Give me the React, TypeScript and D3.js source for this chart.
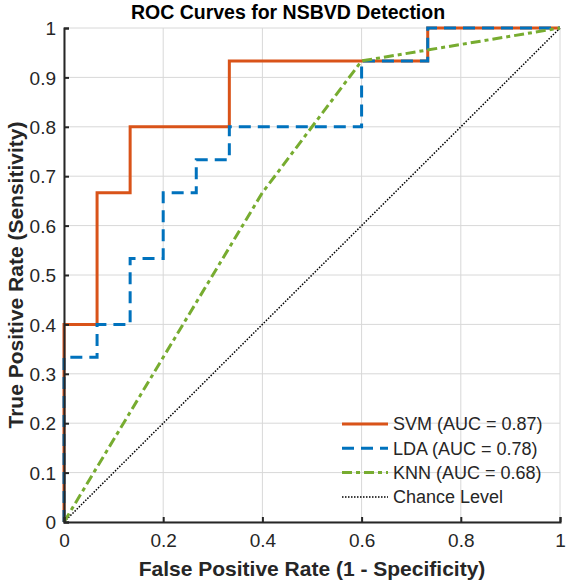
import React, { useEffect, useRef } from "react";
import * as d3 from "d3";

// ROC points (false positive rate, true positive rate)
const svmFpr = [0, 0, 1 / 15, 1 / 15, 2 / 15, 2 / 15, 5 / 15, 5 / 15, 11 / 15, 11 / 15, 1];
const svmTpr = [0, 6 / 15, 6 / 15, 10 / 15, 10 / 15, 12 / 15, 12 / 15, 14 / 15, 14 / 15, 1, 1];

const ldaFpr = [0, 0, 1 / 15, 1 / 15, 2 / 15, 2 / 15, 3 / 15, 3 / 15, 4 / 15, 4 / 15, 5 / 15, 5 / 15, 9 / 15, 9 / 15, 11 / 15, 11 / 15, 1];
const ldaTpr = [0, 5 / 15, 5 / 15, 6 / 15, 6 / 15, 8 / 15, 8 / 15, 10 / 15, 10 / 15, 11 / 15, 11 / 15, 12 / 15, 12 / 15, 14 / 15, 14 / 15, 1, 1];

const knnFpr = [0, 6 / 15, 9 / 15, 1];
const knnTpr = [0, 10 / 15, 14 / 15, 1];

const chanceFpr = [0, 1];
const chanceTpr = [0, 1];

const seriesNames = ["SVM (AUC = 0.87)", "LDA (AUC = 0.78)", "KNN (AUC = 0.68)", "Chance Level"];
const seriesColors = ["#D95319", "#0072BD", "#77AC30", "#000000"];
const seriesDash = [null, "12,7", "10,4,4,4", "1.5,1.5"];
const seriesWidth = [3, 3, 3, 1.5];

const xTicks = [0, 0.2, 0.4, 0.6, 0.8, 1];
const yTicks = [0, 0.1, 0.2, 0.3, 0.4, 0.5, 0.6, 0.7, 0.8, 0.9, 1];

const App = () => {
  const ref = useRef<SVGSVGElement>(null);

  useEffect(() => {
    const svg = d3.select(ref.current);
    svg.selectAll("*").remove();

    const width = 567;
    const height = 586;
    const margin = { top: 28, right: 7, bottom: 64, left: 64 };
    const font = "'Liberation Sans', Arial, Helvetica, sans-serif";
    const axisColor = "#262626";

    const x = d3.scaleLinear().domain([0, 1]).range([margin.left, width - margin.right]);
    const y = d3.scaleLinear().domain([0, 1]).range([height - margin.bottom, margin.top]);

    // grid
    const grid = svg.append("g").attr("stroke", "#d8d8d8").attr("stroke-width", 1);
    xTicks.forEach((t) => {
      grid.append("line").attr("x1", x(t)).attr("x2", x(t)).attr("y1", y(0)).attr("y2", y(1));
    });
    yTicks.forEach((t) => {
      grid.append("line").attr("x1", x(0)).attr("x2", x(1)).attr("y1", y(t)).attr("y2", y(t));
    });

    const line = d3
      .line<number[]>()
      .x((d) => x(d[0]))
      .y((d) => y(d[1]));

    const series = [
      [svmFpr, svmTpr],
      [ldaFpr, ldaTpr],
      [knnFpr, knnTpr],
      [chanceFpr, chanceTpr],
    ];

    // chance line underneath, curves on top in legend order
    const order = [3, 0, 1, 2];
    order.forEach((i) => {
      const [fx, ty] = series[i];
      const pts = fx.map((v, j) => [v, ty[j]]);
      svg
        .append("path")
        .attr("d", line(pts))
        .attr("fill", "none")
        .attr("stroke", seriesColors[i])
        .attr("stroke-width", seriesWidth[i])
        .attr("stroke-dasharray", seriesDash[i])
        .attr("stroke-linejoin", "miter");
    });

    // axes, ticks pointing inward
    const xAxis = svg
      .append("g")
      .attr("transform", `translate(0,${y(0)})`)
      .call(d3.axisBottom(x).tickValues(xTicks).tickSize(-5).tickPadding(12).tickFormat(d3.format("~g")));
    const yAxis = svg
      .append("g")
      .attr("transform", `translate(${x(0)},0)`)
      .call(d3.axisLeft(y).tickValues(yTicks).tickSize(-5).tickPadding(8).tickFormat(d3.format("~g")));

    [xAxis, yAxis].forEach((a) => {
      a.select(".domain").attr("stroke", axisColor).attr("stroke-width", 2);
      a.selectAll(".tick line").attr("stroke", axisColor).attr("stroke-width", 2);
      a.selectAll(".tick text")
        .attr("fill", axisColor)
        .style("font-family", font)
        .style("font-size", "19px");
    });
    yAxis.selectAll(".tick text").attr("dy", "0.35em");

    // title
    svg
      .append("text")
      .attr("x", 288)
      .attr("y", 19)
      .attr("text-anchor", "middle")
      .style("font-family", font)
      .style("font-weight", "bold")
      .style("font-size", "19.5px")
      .attr("fill", "#000")
      .text("ROC Curves for NSBVD Detection");

    svg
      .append("text")
      .attr("x", (x(0) + x(1)) / 2)
      .attr("y", 576)
      .attr("text-anchor", "middle")
      .style("font-family", font)
      .style("font-weight", "bold")
      .style("font-size", "21px")
      .attr("fill", axisColor)
      .text("False Positive Rate (1 - Specificity)");

    svg
      .append("text")
      .attr("transform", `translate(23,${(y(0) + y(1)) / 2}) rotate(-90)`)
      .attr("text-anchor", "middle")
      .style("font-family", font)
      .style("font-weight", "bold")
      .style("font-size", "21px")
      .attr("fill", axisColor)
      .text("True Positive Rate (Sensitivity)");

    // legend
    const legend = svg.append("g").attr("transform", "translate(342,424)");
    seriesNames.forEach((name, i) => {
      const g = legend.append("g").attr("transform", `translate(0,${i * 24.3})`);
      g.append("line")
        .attr("x1", 0)
        .attr("x2", 46)
        .attr("stroke", seriesColors[i])
        .attr("stroke-width", seriesWidth[i])
        .attr("stroke-dasharray", seriesDash[i]);
      g.append("text")
        .attr("x", 51)
        .attr("dy", "0.35em")
        .style("font-family", font)
        .style("font-size", "18px")
        .attr("fill", axisColor)
        .text(name);
    });
  }, []);

  return (
    <svg
      ref={ref}
      width={567}
      height={586}
      style={{ display: "block", position: "absolute", left: 0, top: 0, background: "#fff" }}
    />
  );
};

export default App;
